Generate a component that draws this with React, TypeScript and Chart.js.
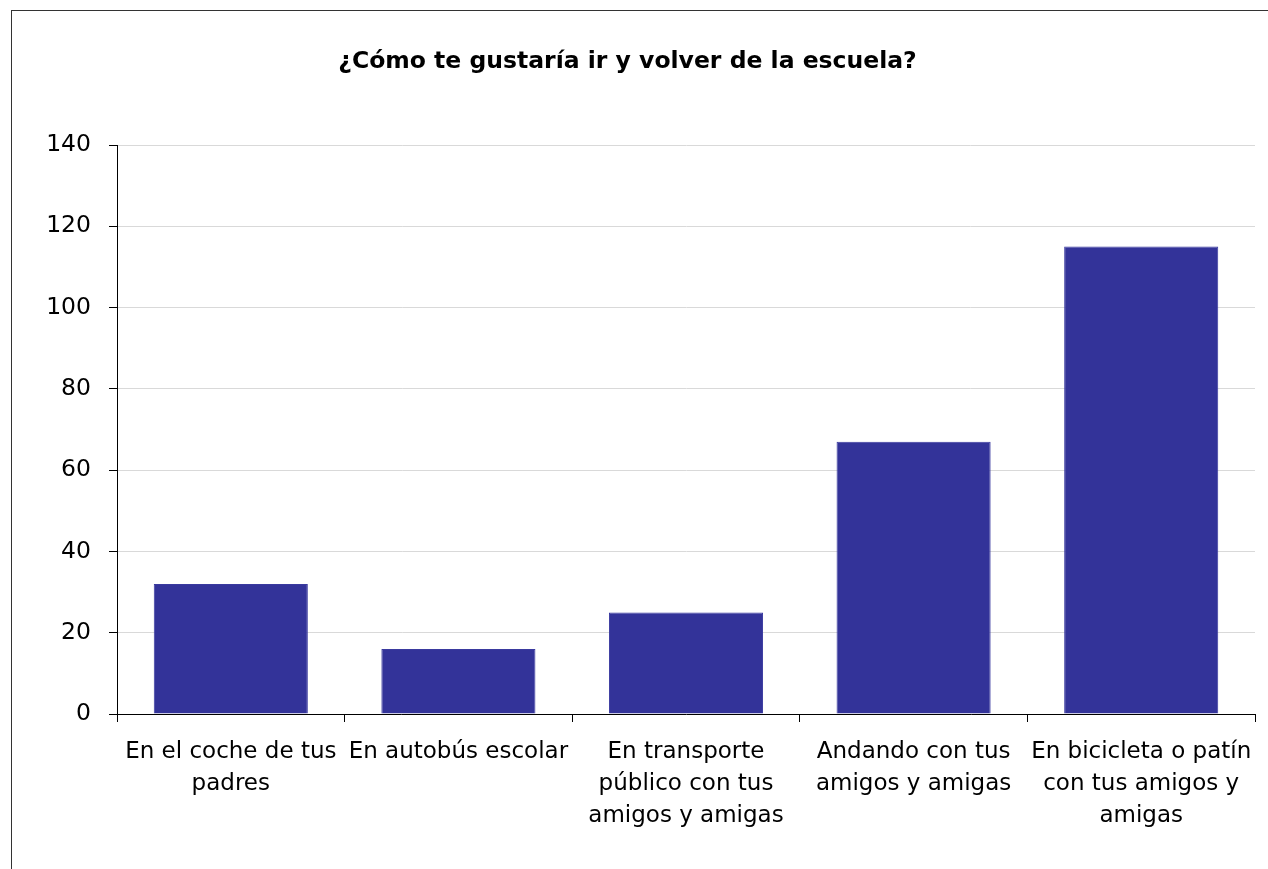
import React, { useEffect, useRef } from "react";
import { Chart, registerables } from "chart.js";

Chart.register(...registerables);

const title = "¿Cómo te gustaría ir y volver de la escuela?";
const categories: string[][] = [
  ["En el coche de tus", "padres"],
  ["En autobús escolar"],
  ["En transporte", "público con tus", "amigos y amigas"],
  ["Andando con tus", "amigos y amigas"],
  ["En bicicleta o patín", "con tus amigos y", "amigas"],
];
const values: number[] = [32, 16, 25, 67, 115];
const yMin = 0;
const yMax = 140;
const yStep = 20;

const FONT = "'DejaVu Sans', Tahoma, sans-serif";

export default function App() {
  const canvasRef = useRef<HTMLCanvasElement | null>(null);

  useEffect(() => {
    document.body.style.margin = "0";
    document.body.style.overflow = "hidden";
    const canvas = canvasRef.current;
    if (!canvas) return;
    const chart = new Chart(canvas, {
      type: "bar",
      data: {
        labels: categories,
        datasets: [
          {
            data: values,
            backgroundColor: "#333399",
            borderColor: "#3a3a9f",
            borderWidth: 1,
            categoryPercentage: 1,
            barPercentage: 0.677,
          },
        ],
      },
      options: {
        responsive: false,
        animation: false,
        events: [],
        layout: { padding: { left: 0, right: 13, top: 0, bottom: 0 } },
        plugins: {
          legend: { display: false },
          tooltip: { enabled: false },
          title: {
            display: true,
            text: title,
            color: "#000",
            font: { family: FONT, size: 23.5, weight: "bold", lineHeight: 1.2 },
            padding: { top: 48, bottom: 68.8 },
          },
        },
        scales: {
          x: {
            offset: true,
            grid: {
              display: true,
              offset: true,
              drawOnChartArea: false,
              drawTicks: true,
              tickLength: 8,
              tickColor: "#000",
              color: "#000",
            },
            border: { display: true, color: "#000", width: 1 },
            ticks: {
              color: "#000",
              padding: 14,
              maxRotation: 0,
              minRotation: 0,
              autoSkip: false,
              font: { family: FONT, size: 23, lineHeight: 1.39 },
            },
            afterFit: (scale: any) => {
              scale.height = 869 - 714;
            },
          },
          y: {
            min: yMin,
            max: yMax,
            ticks: {
              stepSize: yStep,
              color: "#000",
              padding: 18,
              font: { family: FONT, size: 23.5 },
            },
            grid: {
              color: "#d9d9d9",
              tickColor: "#000",
              tickLength: 8,
              drawTicks: true,
            },
            border: { display: true, color: "#000", width: 1 },
            afterFit: (scale: any) => {
              scale.width = 117;
            },
          },
        },
      },
    });
    return () => chart.destroy();
  }, []);

  return (
    <div style={{ position: "fixed", left: 0, top: 0, width: 1268, height: 869, background: "#fff" }}>
      <div
        style={{
          position: "absolute",
          left: 11,
          top: 10,
          width: 1300,
          height: 900,
          borderLeft: "1px solid #333",
          borderTop: "1px solid #333",
        }}
      />
      <canvas
        ref={canvasRef}
        width={1268}
        height={869}
        style={{ position: "absolute", left: 0, top: 0, width: 1268, height: 869 }}
      />
    </div>
  );
}
